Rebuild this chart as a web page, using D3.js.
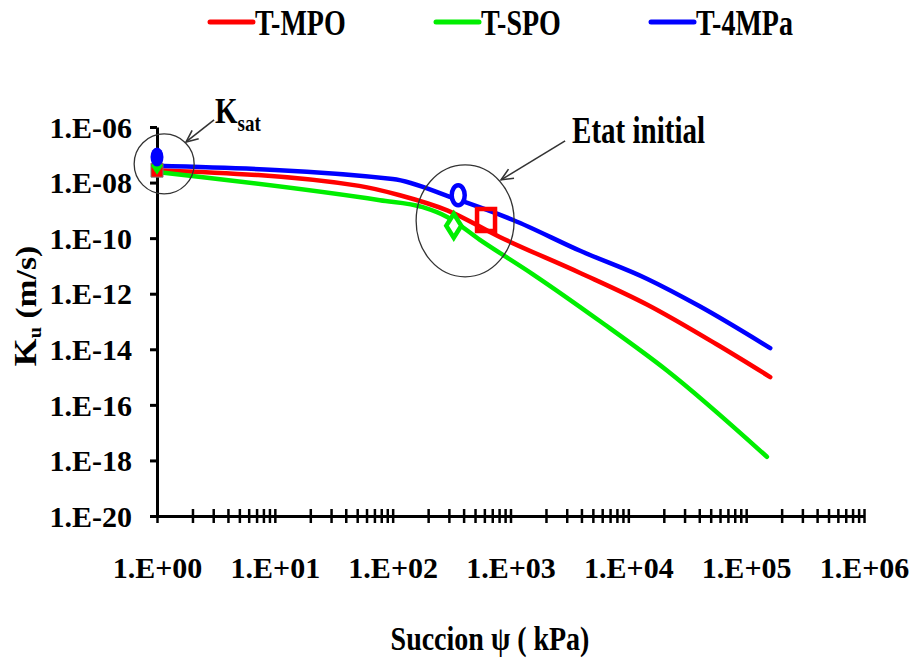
<!DOCTYPE html>
<html><head><meta charset="utf-8">
<script src="https://cdn.jsdelivr.net/npm/d3@7"></script>
<style>html,body{margin:0;padding:0;background:#fff;} svg{display:block;}</style>
</head><body><svg id="c" width="911" height="660"></svg>
<script>
// ---------- data ----------
const seriesNames = ["T-MPO", "T-SPO", "T-4MPa"];
const seriesColors = ["#ff0000", "#00ee00", "#0000ff"];

const suctionMPO = [1, 52, 115, 290, 810, 3900, 14500, 57000, 160000];
const kMPO       = [2.8e-8, 7.6e-9, 3.5e-9, 1.0e-9, 1.1e-10, 5.6e-12, 4.0e-13, 1.45e-14, 1.0e-15];

const suctionSPO = [1, 78, 180, 290, 550, 1550, 5800, 21000, 150000];
const kSPO       = [2.4e-8, 2.3e-9, 1.3e-9, 5.8e-10, 8.7e-11, 5.0e-12, 1.0e-13, 1.8e-15, 1.35e-18];

const suction4MPa = [1, 100, 325, 1050, 3900, 14500, 40000, 160000];
const k4MPa       = [4.0e-8, 1.35e-8, 2.8e-9, 4.5e-10, 3.5e-11, 3.4e-12, 3.6e-13, 1.1e-14];

// saturated permeability points (filled markers)
const ksatSuction = [1, 1, 1];
const ksatK       = [2.8e-8, 4.0e-8, 8.3e-8];
// initial state points (open markers)
const initSuction = [620, 330, 360];
const initK       = [4.5e-10, 2.8e-10, 3.5e-9];

const xTickValues = [1, 10, 100, 1e3, 1e4, 1e5, 1e6];
const xTickLabels = ["1.E+00", "1.E+01", "1.E+02", "1.E+03", "1.E+04", "1.E+05", "1.E+06"];
const yTickValues = [1e-6, 1e-8, 1e-10, 1e-12, 1e-14, 1e-16, 1e-18, 1e-20];
const yTickLabels = ["1.E-06", "1.E-08", "1.E-10", "1.E-12", "1.E-14", "1.E-16", "1.E-18", "1.E-20"];

const xTitle = "Succion \u03C8 ( kPa)";
const yTitleMain = "K", yTitleSub = "u", yTitleRest = " (m/s)";
const annKsatMain = "K", annKsatSub = "sat";
const annInit = "Etat initial";
// annotation anchors in data units
const ksatCircleAt = [1.15, 4.7e-8];
const initEllipseAt = [412, 4.2e-10];

// ---------- chart ----------
const svg = d3.select("#c");
const FONT = "'Liberation Serif','Times New Roman',serif";
const x = d3.scaleLog().domain([1, 1e6]).range([157, 864]);
const y = d3.scaleLog().domain([1e-20, 1e-6]).range([516, 127]);

// x axis with minor ticks
const xMinor = x.ticks();
const xLabelMap = new Map(xTickValues.map((v, i) => [v, xTickLabels[i]]));
const gx = svg.append("g").attr("transform", `translate(0,${y(1e-20)})`)
  .call(d3.axisBottom(x).tickValues(xMinor).tickSize(7).tickSizeOuter(0).tickPadding(34)
    .tickFormat(d => {
      for (const [v, l] of xLabelMap) if (Math.abs(Math.log10(d) - Math.log10(v)) < 1e-9) return l;
      return "";
    }));
gx.select(".domain").attr("stroke", "#000").attr("stroke-width", 3);
gx.selectAll(".tick line").attr("y1", -7).attr("stroke", "#000").attr("stroke-width", 2.5);
gx.selectAll(".tick text").attr("font-family", FONT).attr("font-weight", "bold")
  .attr("font-size", 30).attr("fill", "#000");

// y axis
const yLabelMap = new Map(yTickValues.map((v, i) => [v, yTickLabels[i]]));
const gy = svg.append("g").attr("transform", `translate(${x(1)},0)`)
  .call(d3.axisLeft(y).tickValues(yTickValues).tickSize(7).tickSizeOuter(0).tickPadding(18)
    .tickFormat(d => yLabelMap.get(d)));
gy.select(".domain").attr("stroke", "#000").attr("stroke-width", 3);
gy.selectAll(".tick line").attr("stroke", "#000").attr("stroke-width", 3);
gy.selectAll(".tick text").attr("font-family", FONT).attr("font-weight", "bold")
  .attr("font-size", 30).attr("fill", "#000").attr("dy", "0.34em");

// lines
const seriesData = [
  suctionMPO.map((s, i) => [s, kMPO[i]]),
  suctionSPO.map((s, i) => [s, kSPO[i]]),
  suction4MPa.map((s, i) => [s, k4MPa[i]])
];
const line = d3.line().x(d => x(d[0])).y(d => y(d[1])).curve(d3.curveMonotoneX);
seriesData.forEach((d, i) => {
  svg.append("path").datum(d).attr("d", line).attr("fill", "none")
    .attr("stroke", seriesColors[i]).attr("stroke-width", 4.5)
    .attr("stroke-linecap", "round").attr("stroke-linejoin", "round");
});

// markers
const shapes = ["square", "diamond", "circle"];
function markerPath(shape, hw, hh) {
  if (shape === "square") return `M${-hw},${-hh}H${hw}V${hh}H${-hw}Z`;
  if (shape === "diamond") return `M0,${-hh}L${hw},0L0,${hh}L${-hw},0Z`;
  return `M${-hw},0A${hw},${hh} 0 1 0 ${hw},0A${hw},${hh} 0 1 0 ${-hw},0Z`;
}
const ksatSize = [[6, 7], [6, 9], [6.5, 9.5]];
const initSize = [[9, 11], [7.5, 12], [6.5, 10]];
// initial state (open)
initSuction.forEach((s, i) => {
  svg.append("path").attr("d", markerPath(shapes[i], initSize[i][0], initSize[i][1]))
    .attr("transform", `translate(${x(s)},${y(initK[i])})`)
    .attr("fill", shapes[i] === "square" ? "none" : "#fff")
    .attr("stroke", seriesColors[i]).attr("stroke-width", 4.5);
});
// Ksat (filled)
ksatSuction.forEach((s, i) => {
  svg.append("path").attr("d", markerPath(shapes[i], ksatSize[i][0], ksatSize[i][1]))
    .attr("transform", `translate(${x(s)},${y(ksatK[i])})`)
    .attr("fill", seriesColors[i])
    .attr("stroke", shapes[i] === "square" ? "#777" : "none").attr("stroke-width", 1);
});

// annotations
const annColor = "#333";
function arrow(x1, y1, x2, y2) {
  svg.append("line").attr("x1", x1).attr("y1", y1).attr("x2", x2).attr("y2", y2)
    .attr("stroke", annColor).attr("stroke-width", 1.6);
  const a = Math.atan2(y1 - y2, x1 - x2), L = 13, spread = 0.42;
  svg.append("path")
    .attr("d", `M${x2 + L * Math.cos(a + spread)},${y2 + L * Math.sin(a + spread)}L${x2},${y2}L${x2 + L * Math.cos(a - spread)},${y2 + L * Math.sin(a - spread)}`)
    .attr("fill", "none").attr("stroke", annColor).attr("stroke-width", 1.6);
}
const kc = [x(ksatCircleAt[0]), y(ksatCircleAt[1])];
svg.append("circle").attr("cx", kc[0]).attr("cy", kc[1]).attr("r", 30)
  .attr("fill", "none").attr("stroke", annColor).attr("stroke-width", 1.3);
const kh = [kc[0] + 31 * Math.cos(-Math.PI / 4), kc[1] + 31 * Math.sin(-Math.PI / 4)];
arrow(kh[0] + 28, kh[1] - 22, kh[0], kh[1]);

const ie = [x(initEllipseAt[0]), y(initEllipseAt[1])];
svg.append("ellipse").attr("cx", ie[0]).attr("cy", ie[1]).attr("rx", 49).attr("ry", 56)
  .attr("fill", "none").attr("stroke", annColor).attr("stroke-width", 1.3);
arrow(ie[0] + 100, ie[1] - 80, ie[0] + 36, ie[1] - 41);

// annotation texts
const tK = svg.append("g").attr("transform", `translate(${kh[0] + 29},${kh[1] - 19}) scale(1,1.2)`)
  .append("text").attr("font-family", FONT).attr("font-weight", "bold").attr("fill", "#000");
tK.append("tspan").attr("font-size", 29).text(annKsatMain);
tK.append("tspan").attr("font-size", 19).attr("dy", 7).text(annKsatSub);

svg.append("g").attr("transform", `translate(${ie[0] + 107},143) scale(1,1.3)`)
  .append("text").attr("font-family", FONT).attr("font-weight", "bold").attr("font-size", 29)
  .attr("fill", "#000").text(annInit);

// axis titles
svg.append("g").attr("transform", "translate(490,650) scale(1,1.22)")
  .append("text").attr("text-anchor", "middle").attr("font-family", FONT).attr("font-weight", "bold")
  .attr("font-size", 28).attr("fill", "#000").text(xTitle);

const yt = svg.append("g").attr("transform", "translate(36,306) rotate(-90) scale(1.12,1)")
  .append("text").attr("text-anchor", "middle").attr("font-family", FONT).attr("font-weight", "bold")
  .attr("fill", "#000");
yt.append("tspan").attr("font-size", 32).text(yTitleMain);
yt.append("tspan").attr("font-size", 18).attr("dy", 5).text(yTitleSub);
yt.append("tspan").attr("font-size", 30).attr("dy", -5).text(yTitleRest);

// legend
const legendX = [210, 436, 651];
seriesNames.forEach((n, i) => {
  svg.append("line").attr("x1", legendX[i]).attr("x2", legendX[i] + 43).attr("y1", 22).attr("y2", 22)
    .attr("stroke", seriesColors[i]).attr("stroke-width", 5).attr("stroke-linecap", "round");
  svg.append("g").attr("transform", `translate(${legendX[i] + 45},35) scale(1,1.3)`)
    .append("text").attr("font-family", FONT).attr("font-weight", "bold").attr("font-size", 28)
    .attr("fill", "#000").text(n);
});
</script></body></html>
